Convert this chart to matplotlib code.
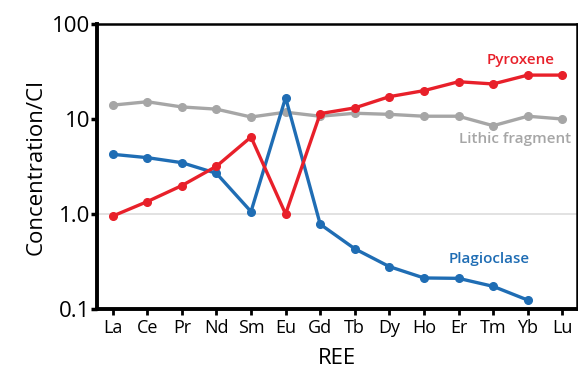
import matplotlib.pyplot as plt
from matplotlib.ticker import FixedLocator, NullLocator

plt.rcParams["font.family"] = ["Open Sans", "DejaVu Sans"]

REE = ["La", "Ce", "Pr", "Nd", "Sm", "Eu", "Gd", "Tb", "Dy", "Ho", "Er", "Tm", "Yb", "Lu"]

lithic = [14.0, 15.2, 13.4, 12.7, 10.5, 11.8, 10.7, 11.5, 11.2, 10.7, 10.7, 8.5, 10.7, 10.0]
plagioclase = [4.25, 3.92, 3.47, 2.68, 1.06, 16.8, 0.78, 0.43, 0.279, 0.212, 0.21, 0.173, 0.124]
pyroxene = [0.95, 1.35, 1.99, 3.18, 6.46, 1.0, 11.4, 13.1, 17.2, 19.9, 24.7, 23.4, 29.0, 29.0]

RED = "#e8202a"
BLUE = "#1f6db4"
GRAY = "#a6a6a6"

fig = plt.figure(figsize=(5.78, 3.70), dpi=100)
ax = fig.add_axes([0.168, 0.165, 0.83, 0.77])

ax.axhline(1.0, color="#dddddd", lw=1.2, zorder=0)

x_all = list(range(len(REE)))
ax.plot(x_all, lithic, color=GRAY, lw=2.4, marker="o", ms=5.5, zorder=2)
ax.plot(x_all[:len(plagioclase)], plagioclase, color=BLUE, lw=2.4, marker="o", ms=5.5, zorder=3)
ax.plot(x_all, pyroxene, color=RED, lw=2.4, marker="o", ms=5.5, zorder=4)

ax.set_yscale("log")
ax.set_ylim(0.1, 100)
ax.set_xlim(-0.45, 13.42)
ax.yaxis.set_major_locator(FixedLocator([0.1, 1.0, 10, 100]))
ax.yaxis.set_minor_locator(NullLocator())
ax.set_yticklabels(["0.1", "1.0", "10", "100"], fontsize=16)
ax.set_xticks(x_all)
ax.set_xticklabels(REE, fontsize=13)

ax.tick_params(axis="y", direction="out", length=4, width=2.5, pad=1)
ax.tick_params(axis="x", direction="out", length=4, width=2, pad=3)

for side in ["left", "bottom"]:
    ax.spines[side].set_linewidth(2.8)
for side in ["top", "right"]:
    ax.spines[side].set_linewidth(1.8)

ax.set_ylabel("Concentration/CI", fontsize=16, labelpad=4)
ax.set_xlabel("REE", fontsize=16, labelpad=8)

ax.text(11.8, 42, "Pyroxene", color=RED, fontsize=11, fontweight="semibold",
        ha="center", va="center")
ax.text(11.63, 6.2, "Lithic fragment", color=GRAY, fontsize=11, fontweight="semibold",
        ha="center", va="center")
ax.text(10.9, 0.335, "Plagioclase", color=BLUE, fontsize=11, fontweight="semibold",
        ha="center", va="center")

fig.savefig("out.png", dpi=100)
